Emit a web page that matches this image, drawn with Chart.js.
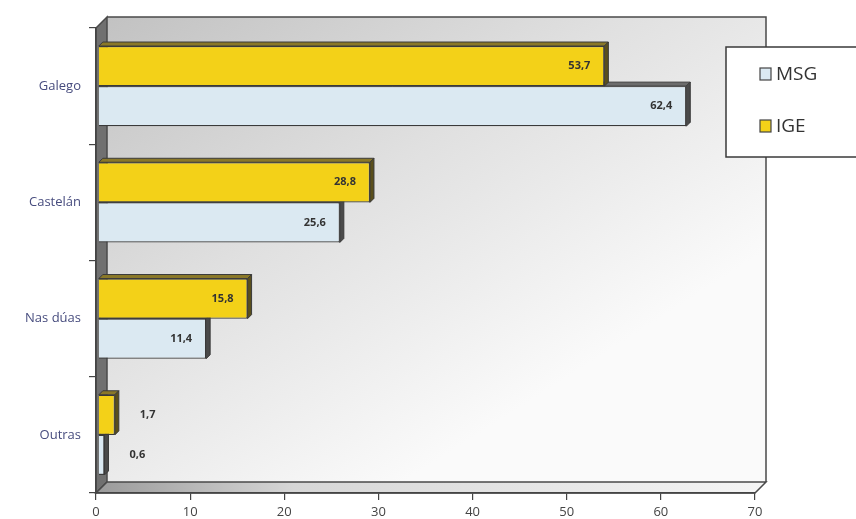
<!DOCTYPE html>
<html>
<head>
<meta charset="utf-8">
<script src="https://cdn.jsdelivr.net/npm/chart.js@4.4.0/dist/chart.umd.min.js"></script>
<style>
  html, body { margin: 0; padding: 0; background: #fff; }
  #wrap { width: 856px; height: 519px; }
</style>
</head>
<body>
<div id="wrap"><canvas id="chart" width="856" height="519"></canvas></div>
<script>
// Datos
const categorias = ['Galego', 'Castelán', 'Nas dúas', 'Outras'];
const valoresIGE = [53.7, 28.8, 15.8, 1.7];
const valoresMSG = [62.4, 25.6, 11.4, 0.6];
const ticksX = [0, 10, 20, 30, 40, 50, 60, 70];
const nomesSeries = ['MSG', 'IGE'];

const cores = {
    IGE: '#f3d118',
    MSG: '#dbe9f2',
    bordo: '#3a3a3a'
};
const FONDO = 11;   // profundidade das paredes
const FONDO_BARRA = 4;
const DESPRAZAMENTO = 0.3; // as barras quedan un pouco cara ao fondo

function formato(v) {
    return v.toFixed(1).replace('.', ',');
}

// paredes 3D (fondo, parede esquerda, chan)
const paredes = {
    id: 'paredes',
    beforeDraw(chart) {
        const { ctx, chartArea: a } = chart;
        const d = FONDO;
        ctx.save();
        const g = ctx.createLinearGradient(a.left + d, a.top - d,
            a.left + d + (a.right - a.left) * 0.45, a.bottom - d);
        g.addColorStop(0, '#c2c2c2');
        g.addColorStop(0.5, '#e0e0e0');
        g.addColorStop(1, '#fafafa');
        ctx.fillStyle = g;
        ctx.fillRect(a.left + d, a.top - d, a.right - a.left, a.bottom - a.top);
        ctx.strokeStyle = '#4a4a4a';
        ctx.lineWidth = 1.5;
        ctx.beginPath();
        ctx.moveTo(a.left + d, a.top - d);
        ctx.lineTo(a.right + d, a.top - d);
        ctx.lineTo(a.right + d, a.bottom - d);
        ctx.stroke();

        // parede esquerda
        ctx.fillStyle = '#707070';
        ctx.beginPath();
        ctx.moveTo(a.left, a.top);
        ctx.lineTo(a.left + d, a.top - d);
        ctx.lineTo(a.left + d, a.bottom - d);
        ctx.lineTo(a.left, a.bottom);
        ctx.closePath();
        ctx.fill();
        ctx.stroke();

        // chan
        const gc = ctx.createLinearGradient(a.left, a.bottom, a.right, a.bottom);
        gc.addColorStop(0, '#9a9a9a');
        gc.addColorStop(0.3, '#d6d6d6');
        gc.addColorStop(1, '#f4f4f4');
        ctx.fillStyle = gc;
        ctx.beginPath();
        ctx.moveTo(a.left, a.bottom);
        ctx.lineTo(a.left + d, a.bottom - d);
        ctx.lineTo(a.right + d, a.bottom - d);
        ctx.lineTo(a.right, a.bottom);
        ctx.closePath();
        ctx.fill();
        ctx.stroke();
        ctx.restore();
    }
};

// caras laterais e superiores das barras
const barras3d = {
    id: 'barras3d',
    afterDatasetDraw(chart, args) {
        const { ctx } = chart;
        const d = FONDO_BARRA;
        const ige = args.index === 0;
        ctx.save();
        ctx.strokeStyle = cores.bordo;
        ctx.lineWidth = 1;
        args.meta.data.forEach(el => {
            const p = el.getProps(['x', 'y', 'base', 'height'], true);
            const top = p.y - p.height / 2;
            const bot = p.y + p.height / 2;
            ctx.fillStyle = ige ? '#8a7828' : '#6c6c6c';
            ctx.beginPath();
            ctx.moveTo(p.base, top);
            ctx.lineTo(p.x, top);
            ctx.lineTo(p.x + d, top - d);
            ctx.lineTo(p.base + d, top - d);
            ctx.closePath();
            ctx.fill();
            ctx.stroke();
            ctx.fillStyle = ige ? '#5a4f1c' : '#4a4a4a';
            ctx.beginPath();
            ctx.moveTo(p.x, top);
            ctx.lineTo(p.x + d, top - d);
            ctx.lineTo(p.x + d, bot - d);
            ctx.lineTo(p.x, bot);
            ctx.closePath();
            ctx.fill();
            ctx.stroke();
        });
        ctx.restore();
    }
};

// etiquetas de valor e lenda
const etiquetas = {
    id: 'etiquetas',
    afterDatasetsDraw(chart) {
        const { ctx } = chart;
        ctx.save();
        ctx.font = 'bold 11px "Open Sans"';
        ctx.fillStyle = '#333';
        ctx.textBaseline = 'middle';
        chart.data.datasets.forEach((ds, i) => {
            chart.getDatasetMeta(i).data.forEach((el, j) => {
                const v = ds.data[j];
                if (v > 5) {
                    ctx.textAlign = 'right';
                    ctx.fillText(formato(v), el.x - 14, el.y);
                } else {
                    ctx.textAlign = 'left';
                    ctx.fillText(formato(v), el.x + 25, el.y);
                }
            });
        });
        ctx.restore();
    },
    afterDraw(chart) {
        const { ctx } = chart;
        ctx.save();
        ctx.fillStyle = '#fff';
        ctx.strokeStyle = '#3a3a3a';
        ctx.lineWidth = 1.5;
        ctx.fillRect(726, 47, 131, 110);
        ctx.strokeRect(726, 47, 131, 110);
        ctx.font = '19px "Open Sans"';
        ctx.textBaseline = 'middle';
        ctx.textAlign = 'left';
        nomesSeries.forEach((nome, i) => {
            const y = 74 + i * 52;
            ctx.fillStyle = cores[nome];
            ctx.fillRect(760, y - 6, 11, 12);
            ctx.lineWidth = 1.2;
            ctx.strokeStyle = '#444';
            ctx.strokeRect(760, y - 6, 11, 12);
            ctx.fillStyle = '#333';
            ctx.fillText(nome, 776, y + 1);
        });
        ctx.restore();
    }
};

new Chart(document.getElementById('chart'), {
    type: 'bar',
    data: {
        labels: categorias,
        datasets: [
            {
                label: 'IGE',
                data: valoresIGE,
                xAxisID: 'xb',
                backgroundColor: cores.IGE,
                borderColor: cores.bordo,
                borderWidth: 1.2
            },
            {
                label: 'MSG',
                data: valoresMSG,
                xAxisID: 'xb',
                backgroundColor: cores.MSG,
                borderColor: cores.bordo,
                borderWidth: 1.2
            }
        ]
    },
    options: {
        indexAxis: 'y',
        responsive: false,
        animation: false,
        devicePixelRatio: 1,
        categoryPercentage: 0.69,
        barPercentage: 1.0,
        layout: { padding: { top: 28, right: 101, left: 0, bottom: 0 } },
        plugins: {
            legend: { display: false },
            tooltip: { enabled: false }
        },
        scales: {
            x: {
                min: ticksX[0],
                max: ticksX[ticksX.length - 1],
                afterBuildTicks: s => { s.ticks = ticksX.map(v => ({ value: v })); },
                afterFit: s => { s.height = 26; },
                grid: { drawOnChartArea: false, tickLength: 7, color: '#444', lineWidth: 1.2 },
                border: { color: '#444', width: 1.5 },
                ticks: {
                    color: '#444',
                    padding: 4,
                    font: { family: 'Open Sans', size: 13 }
                }
            },
            // escala oculta das barras, desprazada como na perspectiva 3D
            xb: {
                type: 'linear',
                position: 'bottom',
                display: false,
                min: ticksX[0] - DESPRAZAMENTO,
                max: ticksX[ticksX.length - 1] - DESPRAZAMENTO
            },
            y: {
                afterFit: s => { s.width = 96; },
                grid: { offset: true, drawOnChartArea: false, tickLength: 7, color: '#444', lineWidth: 1.2 },
                border: { color: '#444', width: 1.5 },
                ticks: {
                    color: '#474c7e',
                    padding: 8,
                    font: { family: 'Open Sans', size: 13 }
                }
            }
        }
    },
    plugins: [paredes, barras3d, etiquetas]
});
</script>
</body>
</html>
